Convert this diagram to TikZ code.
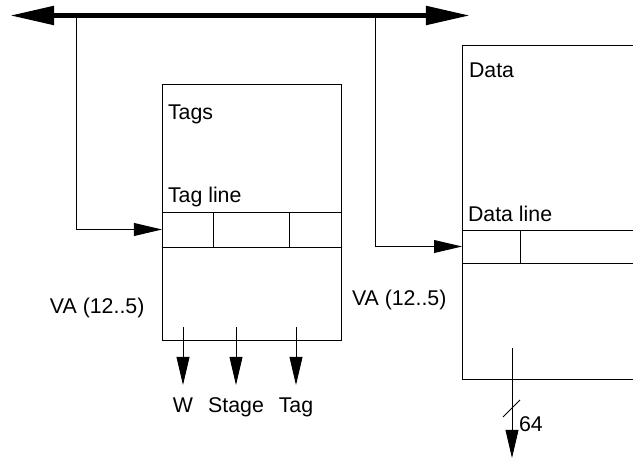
\documentclass[tikz,border=0pt]{standalone}
\usepackage{fontspec}
\setmainfont{Liberation Sans}
\usetikzlibrary{arrows.meta}

\begin{document}
\begin{tikzpicture}[
    x=0.03cm, y=-0.03cm,
    every node/.style={font=\fontsize{18.2}{22}\selectfont, inner sep=0pt, outer sep=0pt},
    box/.style={draw, line width=0.8pt},
    wire/.style={line width=0.8pt, -{Triangle[length=23.9pt, width=11pt]}},
    bus/.style={line width=4.3pt,
      {Triangle[length=37.6pt, width=15.4pt]}-{Triangle[length=37.6pt, width=15.4pt]}},
  ]
    \def\px{0.03cm}                        % one pixel of the reference
    \useasboundingbox (0, 0) rectangle (633, 459);

    % main bus
    \coordinate (busL) at (10, 15.5);
    \coordinate (busR) at (470, 15.5);
    \draw[bus] (busL) -- (busR);
    \coordinate (tapT) at (76, 15.5);
    \coordinate (tapD) at (375, 15.5);

    % tag array
    \node[box, minimum width=179*\px, minimum height=256*\px] (tagbox) at (251.5, 212) {};
    \node[box, minimum width=179*\px, minimum height=35*\px] (tagrow) at (251.5, 229.5) {};
    \draw[line width=0.8pt] (213, 212) -- (213, 247);
    \draw[line width=0.8pt] (289, 212) -- (289, 247);
    \node[anchor=base west] (tagsLbl) at (168, 120) {Tags};
    \node[anchor=base west] (taglineLbl) at (168, 203) {Tag line};

    % data array (cut off at the right)
    \coordinate (dataTL) at (462, 45);
    \coordinate (dataBL) at (462, 379);
    \draw[line width=0.8pt] (633, 45) -- (dataTL) -- (dataBL) -- (633, 379);
    \draw[line width=0.8pt] (462, 230) -- (633, 230);
    \draw[line width=0.8pt] (462, 263) -- (633, 263);
    \draw[line width=0.8pt] (520, 230) -- (520, 263);
    \coordinate (datarow) at (462, 246.5);
    \node[anchor=base west] (dataLbl) at (469, 78) {Data};
    \node[anchor=base west] (datalineLbl) at (468, 222) {Data line};

    % index lines from the bus
    \draw[wire] (tapT) |- (tagrow.west);
    \draw[wire] (tapD) |- (datarow);
    \node[anchor=base west] (vaTag) at (50, 314) {VA (12..5)};
    \node[anchor=base west] (vaData) at (352, 306) {VA (12..5)};

    % outputs of the tag array
    \foreach \xx/\lbl in {183/W, 236/Stage, 296/Tag} {
      \coordinate (out-\lbl) at (\xx, 327);
      \coordinate (end-\lbl) at (\xx, 385);
      \draw[wire] (out-\lbl) -- (end-\lbl);
      \node[anchor=base] (lbl-\lbl) at (\xx, 413) {\lbl};
    }

    % output of the data array
    \coordinate (dataOut) at (512, 348);
    \coordinate (dataEnd) at (512, 458);
    \draw[wire] (dataOut) -- (dataEnd);
    \draw[line width=0.8pt] (503, 417) -- (520, 400);
    \node[anchor=base west] (widthLbl) at (519, 432) {64};
  \end{tikzpicture}
\end{document}
